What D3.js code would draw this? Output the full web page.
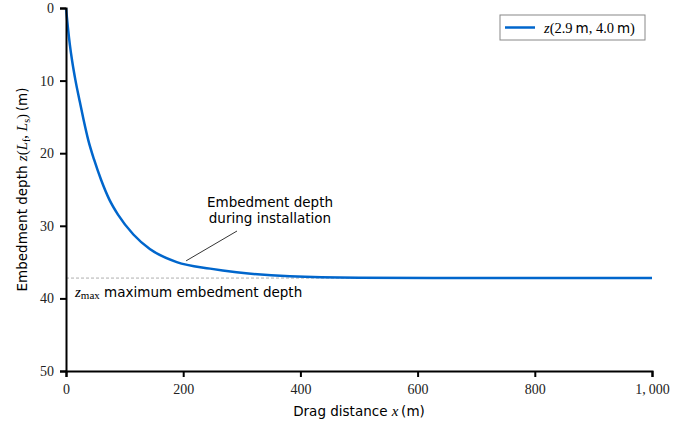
<!doctype html>
<html>
<head>
<meta charset="utf-8">
<script src="https://d3js.org/d3.v7.min.js"></script>
<style>
 body { margin: 0; background: white; }
 .sans { font-family: "DejaVu Sans", sans-serif; }
 .serif { font-family: "Liberation Serif", "DejaVu Serif", serif; }
</style>
</head>
<body>
<script>
// drag distance (m) and embedment depth (m)
var distance = [0, 3, 6.5, 10.5, 16, 23, 30, 38, 48, 60, 74, 89, 115, 143, 189, 246, 291, 382, 500, 700, 1000];
var depth = [0, 2.5, 5, 7.3, 9.9, 12.7, 15.4, 18.2, 20.9, 23.7, 26.4, 28.5, 31.2, 33.2, 35.0, 35.9, 36.4, 36.95, 37.15, 37.2, 37.2];
var zMax = 37.2;
var xTicks = [0, 200, 400, 600, 800, 1000];
var yTicks = [0, 10, 20, 30, 40, 50];

var W = 697, H = 427;
var pL = 66, pR = 652, pT = 8, pB = 371;
var blue = "#0066cc";

var svg = d3.select("body").append("svg")
  .attr("width", W)
  .attr("height", H);

var x = d3.scaleLinear().domain([0, 1000]).range([pL, pR]);
var y = d3.scaleLinear().domain([0, 50]).range([pT, pB]);

// zmax reference line
svg.append("line")
  .attr("x1", x(0)).attr("x2", x(1000))
  .attr("y1", y(zMax)).attr("y2", y(zMax))
  .attr("stroke", "#999")
  .attr("stroke-width", 0.8)
  .attr("stroke-dasharray", "3 2");

// curve
var pts = distance.map(function(d, i) { return [d, depth[i]]; });
svg.append("path")
  .datum(pts)
  .attr("fill", "none")
  .attr("stroke", blue)
  .attr("stroke-width", 2.5)
  .attr("d", d3.line()
    .x(function(d) { return x(d[0]); })
    .y(function(d) { return y(d[1]); })
    .curve(d3.curveMonotoneX));

// axes
var fmt = function(d) { return d3.format(",")(d).replace(",", ",\u2009"); };
var xAxis = svg.append("g")
  .attr("transform", "translate(0," + pB + ")")
  .call(d3.axisBottom(x).tickValues(xTicks).tickFormat(fmt).tickSizeOuter(0).tickSize(6).tickPadding(7));
var yAxis = svg.append("g")
  .attr("transform", "translate(" + pL + ",0)")
  .call(d3.axisLeft(y).tickValues(yTicks).tickSizeOuter(0).tickSize(6).tickPadding(6));

[xAxis, yAxis].forEach(function(g) {
  g.select(".domain").attr("stroke", "black").attr("stroke-width", 2);
  g.selectAll(".tick line").attr("stroke", "black").attr("stroke-width", 2);
  g.selectAll(".tick text")
    .attr("class", "serif")
    .style("font-size", "14px")
    .attr("fill", "#222");
});

// axis labels
var xl = svg.append("text")
  .attr("class", "sans")
  .attr("x", (pL + pR) / 2)
  .attr("y", 416)
  .attr("text-anchor", "middle")
  .style("font-size", "13.5px");
xl.append("tspan").text("Drag distance ");
xl.append("tspan").attr("class", "serif").style("font-style", "italic").style("font-size", "15px").text("x");
xl.append("tspan").text("\u2009(m)");

var yl = svg.append("text")
  .attr("class", "sans")
  .attr("transform", "translate(27," + ((pT + pB) / 2) + ") rotate(-90)")
  .attr("text-anchor", "middle")
  .style("font-size", "13.5px");
yl.append("tspan").text("Embedment depth ");
yl.append("tspan").attr("class", "serif").style("font-style", "italic").style("font-size", "15px").text("z");
yl.append("tspan").attr("class", "serif").style("font-size", "15px").text("(");
yl.append("tspan").attr("class", "serif").style("font-style", "italic").style("font-size", "15px").text("L");
yl.append("tspan").attr("class", "serif").style("font-size", "10px").attr("dy", 3).text("f");
yl.append("tspan").attr("class", "serif").style("font-size", "15px").attr("dy", -3).text(", ");
yl.append("tspan").attr("class", "serif").style("font-style", "italic").style("font-size", "15px").text("L");
yl.append("tspan").attr("class", "serif").style("font-size", "10px").attr("dy", 3).text("s");
yl.append("tspan").attr("class", "serif").style("font-size", "15px").attr("dy", -3).text(")");
yl.append("tspan").text("\u2009(m)");

// zmax label
var zl = svg.append("text")
  .attr("x", 75)
  .attr("y", y(zMax) + 19);
zl.append("tspan").attr("class", "serif").style("font-style", "italic").style("font-size", "15px").text("z");
zl.append("tspan").attr("class", "serif").style("font-size", "11px").attr("dy", 2).text("max");
zl.append("tspan").attr("class", "sans").style("font-size", "13.5px").attr("dy", -2).text(" maximum embedment depth");

// annotation
var an = svg.append("text")
  .attr("class", "sans")
  .attr("text-anchor", "middle")
  .style("font-size", "13.5px");
an.append("tspan").attr("x", 270).attr("y", 207).text("Embedment depth");
an.append("tspan").attr("x", 270).attr("y", 223).text("during installation");
svg.append("line")
  .attr("x1", 237).attr("y1", 231)
  .attr("x2", x(205)).attr("y2", y(35.1) - 2)
  .attr("stroke", "black")
  .attr("stroke-width", 0.8);

// legend
var lg = svg.append("g").attr("transform", "translate(500,15)");
lg.append("rect")
  .attr("width", 145).attr("height", 25)
  .attr("fill", "white")
  .attr("stroke", "#888");
lg.append("line")
  .attr("x1", 5).attr("x2", 35)
  .attr("y1", 12.5).attr("y2", 12.5)
  .attr("stroke", blue)
  .attr("stroke-width", 2.5);
var lt = lg.append("text")
  .attr("class", "serif")
  .attr("x", 44).attr("y", 17.5)
  .style("font-size", "14.5px");
lt.append("tspan").style("font-style", "italic").text("z");
lt.append("tspan").text("(2.9\u2009");
lt.append("tspan").attr("class", "sans").style("font-size", "13.5px").text("m");
lt.append("tspan").text(", 4.0\u2009");
lt.append("tspan").attr("class", "sans").style("font-size", "13.5px").text("m");
lt.append("tspan").text(")");
</script>
</body>
</html>
